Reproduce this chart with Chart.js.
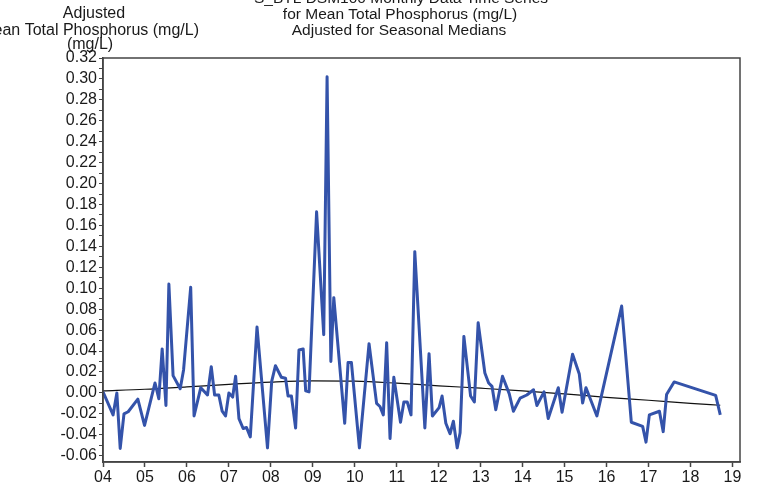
<!DOCTYPE html>
<html>
<head>
<meta charset="utf-8">
<script src="https://cdn.jsdelivr.net/npm/chart.js@4/dist/chart.umd.min.js"></script>
<style>
  html, body { margin: 0; padding: 0; background: #fff; }
  #wrap { width: 759px; height: 487px; position: relative; }
</style>
</head>
<body>
<div id="wrap"><canvas id="grafico"></canvas></div>
<script>
// Datos (x en años desde 2000)
const anios = [4.00, 4.24, 4.33, 4.41, 4.50, 4.60, 4.83, 4.99, 5.24, 5.33, 5.41, 5.50, 5.57, 5.67, 5.84, 5.92,
  6.09, 6.17, 6.33, 6.49, 6.58, 6.66, 6.76, 6.84, 6.92, 7.00, 7.09, 7.16, 7.24, 7.34, 7.42, 7.51, 7.67, 7.92,
  8.02, 8.11, 8.25, 8.35, 8.41, 8.49, 8.59, 8.67, 8.77, 8.83, 8.91, 9.09, 9.26, 9.34, 9.43, 9.50, 9.76, 9.84, 9.92,
  10.11, 10.34, 10.52, 10.60, 10.68, 10.76, 10.84, 10.93, 11.09, 11.17, 11.25, 11.34, 11.43, 11.67, 11.77, 11.85,
  12.01, 12.08, 12.17, 12.27, 12.35, 12.44, 12.51, 12.60, 12.76, 12.85, 12.94, 13.10, 13.19, 13.27, 13.36, 13.52,
  13.68, 13.78, 13.94, 14.10, 14.26, 14.34, 14.51, 14.61, 14.85, 14.94, 15.19, 15.35, 15.43, 15.51, 15.77, 16.36,
  16.59, 16.86, 16.94, 17.02, 17.26, 17.35, 17.43, 17.61, 18.60, 18.71];
const fosforo = [0.001, -0.021, 0.000, -0.053, -0.020, -0.018, -0.006, -0.031, 0.0095, -0.0055, 0.042, -0.012, 0.104, 0.0165, 0.004, 0.022,
  0.101, -0.022, 0.005, -0.002, 0.025, -0.002, -0.002, -0.0175, -0.022, 0.000, -0.004, 0.016, -0.0245, -0.034, -0.033, -0.042, 0.063, -0.0525,
  0.011, 0.026, 0.015, 0.014, -0.003, -0.003, -0.0335, 0.041, 0.042, 0.002, 0.001, 0.173, 0.0557, 0.302, 0.030, 0.091, -0.029, 0.029, 0.029,
  -0.0525, 0.047, -0.010, -0.013, -0.021, 0.048, -0.0436, 0.015, -0.028, -0.0086, -0.0086, -0.021, 0.135, -0.0335, 0.0375, -0.022,
  -0.014, -0.003, -0.029, -0.039, -0.027, -0.0525, -0.038, 0.054, -0.003, -0.0086, 0.067, 0.019, 0.0095, 0.0063, -0.016, 0.016,
  -0.0007, -0.0175, -0.005, -0.002, 0.003, -0.012, 0.001, -0.0245, 0.005, -0.0185, 0.037, 0.018, -0.0096, 0.005, -0.022, 0.083,
  -0.028, -0.032, -0.047, -0.021, -0.0175, -0.037, -0.0016, 0.0105, -0.0023, -0.021];

// Tendencia suavizada
const aniosTendencia = [4, 5, 6, 7, 8, 9, 10, 11, 12, 13, 14, 15, 16, 17, 18, 18.71];
const tendencia = [0.002, 0.0035, 0.0058, 0.0082, 0.0103, 0.0115, 0.0112, 0.0093, 0.0068, 0.0045, 0.002, -0.001, -0.0042, -0.007, -0.0099, -0.0118];

const titulo = ['S_BTL DSM100 Monthly Data Time Series', 'for Mean Total Phosphorus (mg/L)', 'Adjusted for Seasonal Medians'];
const tituloEjeY = ['Adjusted', 'Mean Total Phosphorus (mg/L)', '(mg/L)'];

const fuente = '"Liberation Sans", Arial, sans-serif';
Chart.defaults.font.family = fuente;
Chart.defaults.font.size = 16;
Chart.defaults.color = '#1a1a1a';

// Textos y marco
const textos = {
  id: 'textos',
  afterDraw(chart) {
    const c = chart.ctx, a = chart.chartArea;
    c.save();
    c.fillStyle = '#1a1a1a';
    c.font = '15.5px ' + fuente;
    c.textBaseline = 'middle';
    c.textAlign = 'center';
    c.fillText(titulo[0], 401, -1);
    c.fillText(titulo[1], 400, 15);
    c.fillText(titulo[2], 399, 31);
    c.font = '16px ' + fuente;
    c.fillText(tituloEjeY[0], 94, 14);
    c.textAlign = 'right';
    c.fillText(tituloEjeY[1], 199, 31);
    c.textAlign = 'center';
    c.fillText(tituloEjeY[2], 90, 45);
    c.strokeStyle = '#444';
    c.lineWidth = 1.5;
    c.strokeRect(a.left, a.top, a.right - a.left, a.bottom - a.top);
    c.restore();
  }
};

new Chart(document.getElementById('grafico').getContext('2d'), {
  type: 'line',
  data: {
    datasets: [
      { data: anios.map((x, i) => ({ x: x, y: fosforo[i] })), borderColor: '#3453aa', borderWidth: 3, pointRadius: 0, tension: 0, borderJoinStyle: 'round' },
      { data: aniosTendencia.map((x, i) => ({ x: x, y: tendencia[i] })), borderColor: '#111', borderWidth: 1.2, pointRadius: 0, cubicInterpolationMode: 'monotone' }
    ]
  },
  options: {
    responsive: true, maintainAspectRatio: false, animation: false,
    layout: { padding: { top: 58, right: 19, left: 0, bottom: 0 } },
    plugins: { legend: { display: false }, tooltip: { enabled: false } },
    scales: {
      x: {
        type: 'linear', min: 4, max: 19.18,
        afterFit: s => { s.height = 25; },
        border: { color: '#444', width: 1.5 },
        grid: { drawOnChartArea: false, tickLength: 5, color: '#444', tickWidth: 1.5 },
        ticks: { stepSize: 1, includeBounds: false, autoSkip: false, maxRotation: 0, padding: 1, color: '#1a1a1a',
          callback: v => (v < 10 ? '0' : '') + Math.round(v) }
      },
      y: {
        min: -0.066, max: 0.32,
        afterFit: s => { s.width = 103; },
        border: { color: '#444', width: 1.5 },
        grid: { drawOnChartArea: false, tickLength: 4, color: '#444', tickWidth: 1 },
        ticks: { stepSize: 0.01, includeBounds: false, autoSkip: false, padding: 2, color: '#1a1a1a',
          callback: v => (Math.round(v * 100) % 2 === 0 ? v.toFixed(2) : '') }
      }
    }
  },
  plugins: [textos]
});
</script>
</body>
</html>
